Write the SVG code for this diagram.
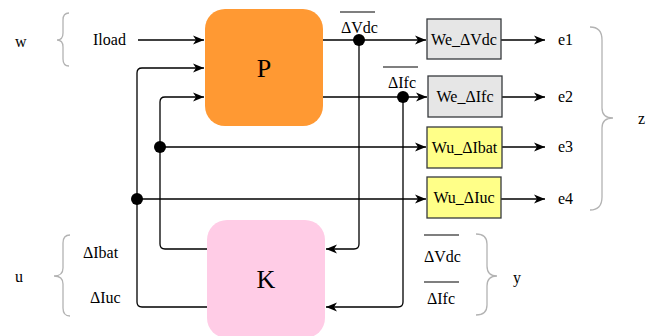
<svg xmlns="http://www.w3.org/2000/svg" width="657" height="336" viewBox="0 0 657 336">
<style>
text{font-family:"Liberation Serif","Times New Roman",serif;font-size:16px;fill:#000}
.c{stroke:#000;stroke-width:1.3;fill:none}
.b{stroke:#b3b3b3;stroke-width:1.3;fill:none}
.w{fill:#e6e6e6;stroke:#36393d;stroke-width:1.3}
.u{fill:#ffff88;stroke:#36393d;stroke-width:1.3}
.m{text-anchor:middle}
.big{font-size:26px}
</style>
<defs>
<marker id="a" markerUnits="userSpaceOnUse" markerWidth="12" markerHeight="10" refX="11" refY="5" orient="auto">
<path d="M0,0.5 L11,5 L0,9.5 L3,5 z" fill="#000"/>
</marker>
</defs>
<rect width="657" height="336" fill="#fff"/>

<g id="connectors">
<path class="c" d="M138,40 H204" marker-end="url(#a)"/>
<path class="c" d="M207,307 H142 Q137,307 137,302 V73 Q137,68 142,68 H204" marker-end="url(#a)"/>
<path class="c" d="M207,249 H165 Q160,249 160,244 V102 Q160,97 165,97 H204" marker-end="url(#a)"/>
<path class="c" d="M160,147 H426" marker-end="url(#a)"/>
<path class="c" d="M137,199 H426" marker-end="url(#a)"/>
<path class="c" d="M323,40 H426" marker-end="url(#a)"/>
<path class="c" d="M323,97 H427" marker-end="url(#a)"/>
<path class="c" d="M359,40 V244 Q359,249 354,249 H326" marker-end="url(#a)"/>
<path class="c" d="M403,97 V302 Q403,307 398,307 H326" marker-end="url(#a)"/>
<path class="c" d="M501,40 H545" marker-end="url(#a)"/>
<path class="c" d="M502,97 H545" marker-end="url(#a)"/>
<path class="c" d="M502,147 H545" marker-end="url(#a)"/>
<path class="c" d="M501,199 H545" marker-end="url(#a)"/>
<circle cx="359" cy="40" r="6" fill="#000"/>
<circle cx="403" cy="97" r="6" fill="#000"/>
<circle cx="160" cy="147" r="6" fill="#000"/>
<circle cx="137" cy="199" r="6" fill="#000"/>
</g>

<g id="P">
<rect x="205" y="9" width="118" height="117" rx="20" fill="#ff9933"/>
<text class="m big" x="264" y="77">P</text>
</g>
<g id="K">
<rect x="207" y="220" width="118" height="118" rx="20" fill="#ffcce6"/>
<text class="m big" x="266" y="288">K</text>
</g>

<g id="We_dVdc">
<rect class="w" x="427" y="19" width="74" height="40"/>
<text class="m" x="464" y="45">We_ΔVdc</text>
</g>
<g id="We_dIfc">
<rect class="w" x="428" y="76" width="74" height="41"/>
<text class="m" x="465" y="102">We_ΔIfc</text>
</g>
<g id="Wu_dIbat">
<rect class="u" x="427" y="127" width="75" height="41"/>
<text class="m" x="464.5" y="153">Wu_ΔIbat</text>
</g>
<g id="Wu_dIuc">
<rect class="u" x="427" y="177" width="74" height="41"/>
<text class="m" x="464" y="203">Wu_ΔIuc</text>
</g>

<g id="labels">
<text x="93" y="45">Iload</text>
<text x="341" y="33">ΔVdc</text>
<line x1="340" y1="12" x2="375" y2="12" stroke="#000" stroke-width="1.2"/>
<text x="388" y="88">ΔIfc</text>
<line x1="383" y1="67" x2="418" y2="67" stroke="#000" stroke-width="1.2"/>
<text x="558" y="45">e1</text>
<text x="558" y="102">e2</text>
<text x="558" y="152">e3</text>
<text x="558" y="204">e4</text>
<text x="83" y="258">ΔIbat</text>
<text x="90" y="303">ΔIuc</text>
<text x="424" y="262">ΔVdc</text>
<line x1="424" y1="235" x2="459" y2="235" stroke="#000" stroke-width="1.2"/>
<text x="427" y="304">ΔIfc</text>
<line x1="424" y1="282" x2="459" y2="282" stroke="#000" stroke-width="1.2"/>
</g>

<g id="w">
<path class="b" d="M69,13 Q63,13 63,20 V33 Q63,40 57,40 Q63,40 63,47 V59 Q63,66 69,66"/>
<text x="15" y="47">w</text>
</g>
<g id="u">
<path class="b" d="M70,235 Q63,235 63,243 V268 Q63,276 54,276 Q63,276 63,284 V308 Q63,316 70,316"/>
<text x="15" y="282">u</text>
</g>
<g id="z">
<path class="b" d="M590,27 Q602,27 602,40 V108 Q602,118 613,118 Q602,118 602,128 V197 Q602,210 590,210"/>
<text x="638" y="124">z</text>
</g>
<g id="y">
<path class="b" d="M476,234 Q487,234 487,244 V266 Q487,276 497,276 Q487,276 487,286 V305 Q487,315 476,315"/>
<text x="513" y="283">y</text>
</g>
</svg>
